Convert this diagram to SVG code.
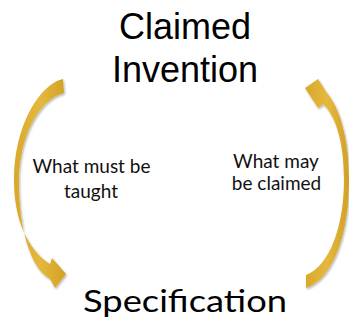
<svg xmlns="http://www.w3.org/2000/svg" width="349" height="322" viewBox="0 0 349 322">
  <defs>
    <linearGradient id="gold" x1="0" y1="0" x2="1" y2="0">
      <stop offset="0" stop-color="#D9A82A"/>
      <stop offset="0.5" stop-color="#E4B83E"/>
      <stop offset="1" stop-color="#D2A124"/>
    </linearGradient>
    <filter id="sh" x="-20%" y="-20%" width="140%" height="140%">
      <feDropShadow dx="1" dy="1.5" stdDeviation="1.2" flood-color="#000" flood-opacity="0.3"/>
    </filter>
    <style>
      .arrow { fill: url(#gold); filter: url(#sh); }
      .title { font-family: "Liberation Sans", Arial, sans-serif; font-size: 36px; fill: #000; text-anchor: middle; }
      .spec { font-family: Lato, "Open Sans", sans-serif; font-size: 31px; fill: #000; }
      .lbl { font-family: Lato, "Open Sans", sans-serif; font-size: 19px; fill: #111; text-anchor: middle; }
    </style>
  </defs>
  <g id="connectors">
    <path id="arrow-left" class="arrow" d="M 63,79 C 40,84 14,125 14,180 C 14,220 28,250 50,264 L 52,258 L 66,274 L 55,288 L 50,279 C 30,268 19,228 19,182 C 19,135 40,99 64,93 Z"/>
    <path id="arrow-right" class="arrow" d="M 306,275 C 330,266 344,225 344,180 C 344,140 335,115 323,104 L 318,108 L 305,88 L 318,79 L 327,93 C 340,108 349,140 349,180 C 349,230 335,278 306,288 Z"/>
  </g>
  <g id="node-claimed-invention">
    <text class="title" x="185" y="39">Claimed</text>
    <text class="title" x="185" y="82">Invention</text>
  </g>
  <g id="node-specification">
    <text class="spec" x="83" y="311.5" textLength="204" lengthAdjust="spacingAndGlyphs">Specification</text>
  </g>
  <g id="label-taught">
    <text class="lbl" x="91.5" y="173">What must be</text>
    <text class="lbl" x="91" y="198">taught</text>
  </g>
  <g id="label-claimed">
    <text class="lbl" x="276" y="168">What may</text>
    <text class="lbl" x="276.5" y="190">be claimed</text>
  </g>
</svg>
